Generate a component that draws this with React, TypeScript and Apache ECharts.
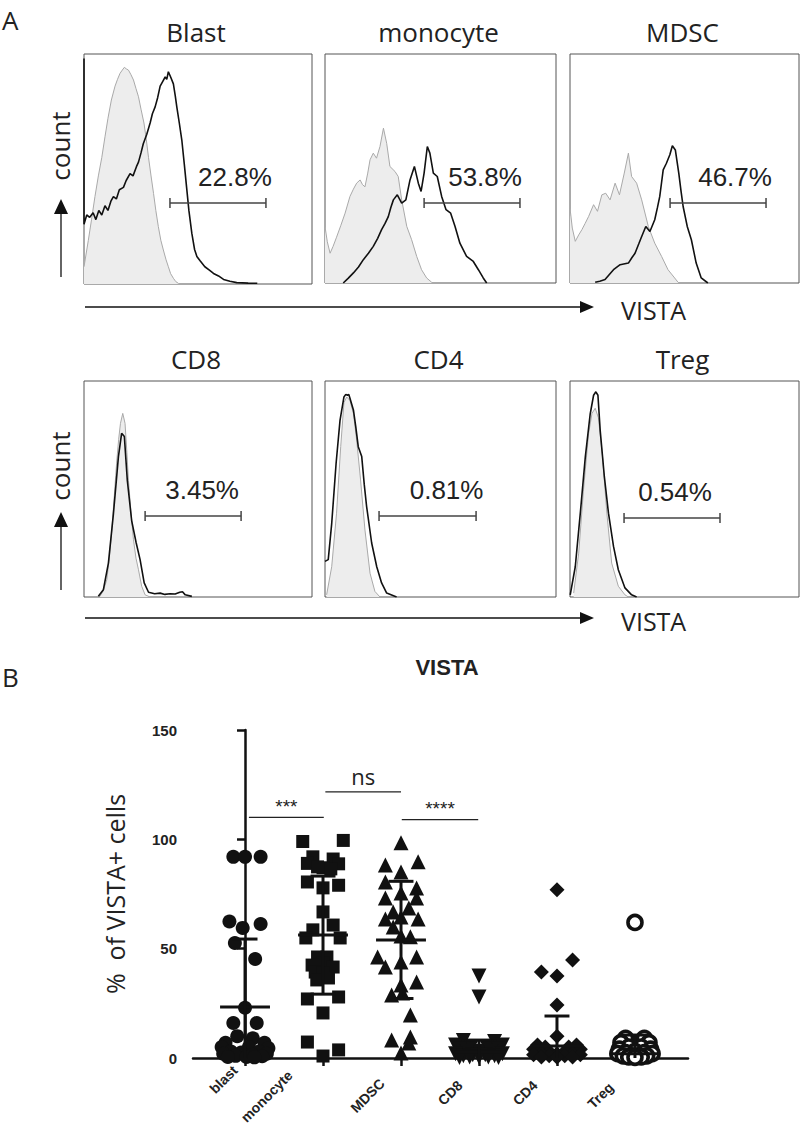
import React, { useEffect, useRef } from "react";
import * as echarts from "echarts";

// ---------- Panel A data (box-relative: x 0..100 of VISTA, y 0..100 of count) ----------
const histTitles = ["Blast", "monocyte", "MDSC", "CD8", "CD4", "Treg"];
const pctLabels = ["22.8%", "53.8%", "46.7%", "3.45%", "0.81%", "0.54%"];
const gateStart = [37.7, 42.9, 43.7, 26.8, 23.4, 23.6];
const gateEnd = [79.8, 84.4, 85.6, 68.9, 65.4, 65.5];
const gateY = [35.2, 34.9, 34.9, 37.5, 37.5, 36.6];

const blastIso = [[0, 7.5], [1.9, 19], [3.3, 28], [4.8, 38], [6.3, 47], [7.8, 55], [9.2, 64], [10.5, 72], [12, 80], [13.6, 86], [14.7, 89], [15.8, 91.6], [16.8, 93], [17.7, 94.2], [18.6, 93.5], [19.5, 93], [20.6, 91], [21.7, 88.7], [22.8, 85], [23.9, 81.4], [25, 76], [26.3, 70], [27.3, 63], [28.3, 55], [29.4, 47], [30.5, 39.4], [31.5, 32], [32.6, 25], [33.7, 19], [34.8, 14.8], [36, 10.5], [37, 7.5], [38, 4.5], [39.2, 2.5], [40.3, 1], [41.4, 0.3]];
const blastStain = [[0, 98], [0, 26], [1.2, 30], [2.5, 29], [4, 31], [5.2, 28], [6.5, 32], [7.8, 30], [9.2, 34], [10.5, 32], [11.8, 36], [12.9, 38], [14.2, 37], [15.5, 41], [17.3, 42], [18.5, 45], [20.2, 48], [21.5, 47], [23, 51], [23.9, 53], [25, 57], [26, 61], [27.5, 65], [29, 70], [30, 74], [31.2, 77], [32.3, 81], [33.4, 86], [34.5, 88], [35.6, 90], [36.3, 89], [37, 92.3], [38, 90], [39.2, 87], [40, 82], [40.7, 77], [41.8, 70], [42.9, 62.6], [44, 52], [45, 42], [46, 32], [47.3, 22], [48.5, 15], [49.5, 12], [51, 10], [53, 7.5], [55, 6], [56.8, 4.6], [59, 3.5], [61.2, 2], [64, 1.2], [67, 0.6], [72, 0.4], [76, 0.3]];

const monoIso = [[0, 24.7], [1, 18], [2.2, 13], [3.5, 16], [5, 20], [6.8, 25], [8.7, 30.5], [10.8, 37.8], [12.3, 41], [13.7, 43.6], [15.2, 45], [16.2, 43], [17.3, 42], [18.5, 48], [19.5, 53.8], [20.9, 56.7], [22.3, 54.5], [23.8, 59.6], [25.3, 67.6], [26.7, 61], [28.1, 50.9], [30.3, 48.7], [31.7, 46.5], [33.2, 36.3], [35.4, 24.7], [37.5, 18.9], [39.7, 11.6], [41.8, 5.8], [44, 2.2], [46.2, 0.3]];
const monoStain = [[7.9, 0], [10, 2], [12.3, 4.4], [14.5, 7], [16.6, 10.2], [18.8, 13], [20.9, 16], [22.8, 19.5], [24.5, 23.3], [26, 26], [27.4, 29], [28.5, 33], [29.6, 36.3], [31.3, 38.5], [33.2, 34.9], [35, 36.3], [36.8, 45], [38.7, 50.9], [40.4, 43.6], [41.6, 40], [42.9, 48], [44.3, 59.6], [45.4, 56.7], [46.9, 48], [48.6, 46.5], [50.5, 37.8], [52.4, 32], [54.4, 30.5], [56.3, 24.7], [58.4, 17.4], [61.3, 11.6], [64.2, 9.4], [66.4, 5.8], [68.5, 2.2], [70, 0]];

const mdscIso = [[0, 32.7], [1, 24], [2.3, 18.2], [3.8, 21], [5.2, 23.3], [6.6, 26], [8.1, 29], [10.3, 34.2], [12, 31.3], [13.9, 38.5], [15.6, 39.2], [17.5, 36.3], [19.7, 43.6], [21.6, 38.5], [23.7, 48], [25.5, 56.7], [26.9, 46.5], [29.1, 43.6], [31.3, 36.3], [34.2, 24.7], [37, 17.4], [40, 11.6], [42.8, 5.8], [45.7, 2.2], [47.2, 0.3]];
const mdscStain = [[11, 0.3], [13, 0.8], [15.3, 1.5], [17, 3.5], [19, 5.8], [21.9, 8], [25.5, 8.7], [27, 11], [28.4, 13], [30, 17], [31.3, 20.3], [33.1, 24.7], [34.9, 22.5], [37, 27.6], [38.2, 33], [39.2, 37.8], [40, 44], [40.7, 49.4], [42.1, 52.3], [43.6, 56], [44.7, 59.9], [46, 58.1], [47.5, 48], [48.5, 40], [49.4, 33.4], [51.2, 24.7], [53, 18.9], [55.1, 8.7], [57.3, 2.2], [60.2, 0]];

const cd8Iso = [[7, 0.3], [8.5, 3], [10, 8], [11.1, 18], [12.2, 31], [13.3, 47], [14.3, 62], [15.2, 73], [16, 80.4], [17, 85], [18, 80.4], [18.8, 67], [19.5, 54], [20.6, 39], [21.7, 26.5], [22.8, 18], [23.9, 12.6], [25.3, 5], [26.8, 1], [29, 0]];
const cd8Stain = [[6.3, 0.3], [8.5, 3.4], [10.7, 15.7], [12.9, 38.5], [15.1, 65], [16.5, 75.8], [17.7, 74.3], [19, 54], [20.9, 35.4], [22.9, 25], [24.6, 17.3], [26.4, 6.5], [28.3, 2.2], [31, 1.5], [33.4, 1.8], [35.5, 1.2], [37.7, 1.5], [40, 1.4], [42, 2.2], [43.2, 2.4], [44.4, 1], [47.3, 0.3]];

const cd4Iso = [[0.7, 1], [2.9, 14], [5, 38.8], [6.8, 69.6], [8.2, 90], [9.4, 92.6], [10.8, 91], [12.3, 85], [13.7, 72.7], [15.4, 54.2], [17.3, 31], [19.5, 11], [21.6, 2.6], [23.8, 0]];
const cd4Stain = [[0, 16.5], [1.4, 17.3], [2.9, 34], [4.8, 61.8], [6.5, 81.8], [8.2, 92.6], [9, 93.8], [9.7, 93.4], [10.3, 93.8], [10.8, 92], [12.3, 86.6], [13.3, 79], [14.4, 69.6], [15.9, 65], [17, 52], [18, 42], [20.2, 25], [22.4, 14], [24.5, 6.5], [26.7, 1.8], [31, 0]];

const tregIso = [[1.6, 1.8], [3.8, 20.3], [5.9, 49.6], [8.1, 75.5], [9.6, 85], [11, 87.4], [12.4, 83], [14.2, 65], [16.1, 38.8], [18.2, 15.7], [21.1, 5], [24, 1], [25.5, 0]];
const tregStain = [[0.1, 1], [2.3, 14], [4.5, 38.8], [6.7, 65], [8.8, 84.6], [10.3, 93.4], [11.3, 95], [12.2, 93.4], [13.2, 76.9], [15, 55.8], [16.8, 38.8], [19, 23.4], [21.1, 12.6], [24, 4.2], [26.9, 1], [29.1, 0]];

const isotypeCurves = [blastIso, monoIso, mdscIso, cd8Iso, cd4Iso, tregIso];
const stainCurves = [blastStain, monoStain, mdscStain, cd8Stain, cd4Stain, tregStain];

// ---------- Panel B data ----------
const categories = ["blast", "monocyte", "MDSC", "CD8", "CD4", "Treg"];
const blastValues = [92, 92, 92, 62.4, 59.5, 61.3, 52.6, 45.3, 23, 16, 16, 10, 9, 7, 7, 5, 5, 4.5, 3, 3, 2.5, 2, 2, 1.5, 1, 0.8, 0.5, 0.5, 0.3];
const blastJitter = [-0.15, 0, 0.2, -0.2, -0.03, 0.2, -0.13, 0.13, 0, -0.15, 0.15, -0.1, 0.1, -0.25, 0.25, -0.3, 0.05, 0.3, -0.18, 0.18, -0.05, -0.28, 0.28, 0.1, -0.12, 0.22, -0.22, 0.02, 0.12];
const monocyteValues = [99, 99.5, 92, 91, 89, 88.8, 87, 87.4, 86.5, 80.5, 79, 77.8, 66.8, 58.6, 60.8, 54.9, 54.9, 46.2, 46.2, 43.5, 42.5, 41.6, 39.3, 38.9, 36.6, 35.7, 27, 27.9, 20.6, 7.3, 3.7, 0.9];
const monocyteJitter = [-0.26, 0.26, -0.13, 0.13, -0.2, 0.2, 0, -0.07, 0.1, -0.2, 0.2, 0, 0, -0.13, 0.13, -0.22, 0.22, -0.07, 0.05, 0, -0.14, 0.13, -0.1, 0, 0.07, -0.08, -0.2, 0.2, 0, -0.2, 0.2, 0];
const mdscValues = [98.4, 88.3, 89.7, 85.1, 80.5, 77.8, 73.2, 75.5, 73.2, 66.8, 68.6, 63.6, 64.5, 63.6, 59.9, 55.8, 55.4, 46.2, 41.6, 43.9, 46.2, 33.4, 34.8, 29.7, 28.8, 19.7, 8.2, 9.6, 6.9, 2.3];
const mdscJitter = [0, -0.2, 0.22, 0, -0.2, 0.2, -0.2, 0, 0.2, -0.1, 0.1, -0.2, 0, 0.22, -0.1, 0, 0.12, -0.3, -0.2, 0, 0.2, 0, 0.2, 0.02, -0.12, 0.12, -0.12, 0.12, 0.1, 0];
const cd8Values = [37.5, 27.9, 8, 7.5, 6, 6, 5, 5, 4, 4, 3, 3, 3, 2, 2, 1.5, 1.5, 1, 1, 0.5, 0.5, 0.5, 0.2, 0.2];
const cd8Jitter = [0, 0, -0.2, 0.2, -0.3, 0.3, -0.1, 0.1, -0.25, 0.25, 0, -0.15, 0.15, -0.3, 0.3, -0.08, 0.08, -0.2, 0.2, 0, -0.12, 0.12, -0.25, 0.25];
const cd4Values = [77, 39.3, 37.5, 44.8, 24.2, 10, 6, 6, 5, 5, 4, 4, 3, 3, 2, 2, 2, 1.5, 1.5, 1, 1, 0.5, 0.5, 0.3];
const cd4Jitter = [0, -0.2, 0, 0.2, 0, 0, -0.25, 0.25, -0.15, 0.15, -0.3, 0.3, -0.1, 0.1, -0.2, 0.2, 0, -0.3, 0.3, -0.1, 0.1, -0.2, 0.2, 0];
const tregValues = [62, 9, 9, 7, 7, 5, 5, 4, 4, 3, 2.5, 2.5, 2, 2, 1, 1, 1, 1, 0.5, 0.5, 0.3];
const tregJitter = [0, -0.12, 0.12, -0.18, 0.18, -0.08, 0.08, -0.2, 0.2, 0, -0.12, 0.12, -0.22, 0.22, -0.04, 0.04, -0.15, 0.15, -0.08, 0.08, 0];

const groupMeans = [23.3, 56.2, 54, 2.8, 5.5, 2];
const groupSDs = [31.1, 27, 26.8, 5.4, 13.7, 8.5];

const sigFrom = [0.05, 1.03, 2.01];
const sigTo = [1.01, 2.0, 2.99];
const sigLevel = [110, 121.7, 109];
const sigText = ["***", "ns", "****"];

const yTicks = [0, 50, 100, 150];

// ---------- layout (styles / positions) ----------
const boxes = [
  { left: 84, top: 54, width: 228, height: 230 },
  { left: 325, top: 54, width: 231, height: 229 },
  { left: 570, top: 54, width: 229, height: 229 },
  { left: 84, top: 381, width: 228, height: 216 },
  { left: 325, top: 381, width: 231, height: 216 },
  { left: 570, top: 381, width: 229, height: 216 },
];
const pctShift = [17, 13, 17, 9, 19, 3];
const catLabelDx = [-10, -33, -19, -19, -22, -24];
const catLabelDy = [10, 15, 23, 25, 25, 27];
const SANS = "'Liberation Sans', Arial, sans-serif";
const OPEN = "'Open Sans', 'Noto Sans', sans-serif";

const txt = (x: number, y: number, text: string, size: number, extra: any = {}) => ({
  type: "text",
  x,
  y,
  rotation: extra.rotation || 0,
  style: {
    text,
    align: extra.align || "center",
    verticalAlign: "middle",
    fontFamily: extra.font || OPEN,
    fontSize: size,
    fontWeight: extra.weight || "normal",
    fill: "#222",
  },
});

function baseGraphic() {
  const graphic: any[] = [
    txt(2, 20, "A", 26, { align: "left" }),
    txt(2, 677, "B", 26, { align: "left" }),
    txt(447, 667, "VISTA", 22, { font: SANS, weight: "bold" }),
    txt(621, 310, "VISTA", 25, { align: "left" }),
    txt(621, 621, "VISTA", 25, { align: "left" }),
    txt(60, 146, "count", 26, { rotation: Math.PI / 2 }),
    txt(60, 466, "count", 26, { rotation: Math.PI / 2 }),
    { type: "line", shape: { x1: 85, y1: 307, x2: 582, y2: 307 }, style: { stroke: "#111", lineWidth: 1.3 } },
    { type: "polygon", shape: { points: [[580, 301], [594, 307], [580, 313]] }, style: { fill: "#111" } },
    { type: "line", shape: { x1: 85, y1: 618, x2: 582, y2: 618 }, style: { stroke: "#111", lineWidth: 1.3 } },
    { type: "polygon", shape: { points: [[580, 612], [594, 618], [580, 624]] }, style: { fill: "#111" } },
    { type: "line", shape: { x1: 61, y1: 277, x2: 61, y2: 212 }, style: { stroke: "#111", lineWidth: 1.3 } },
    { type: "polygon", shape: { points: [[54, 214], [61, 199], [68, 214]] }, style: { fill: "#111" } },
    { type: "line", shape: { x1: 61, y1: 590, x2: 61, y2: 525 }, style: { stroke: "#111", lineWidth: 1.3 } },
    { type: "polygon", shape: { points: [[54, 527], [61, 512], [68, 527]] }, style: { fill: "#111" } },
  ];
  histTitles.forEach((t, i) => {
    const b = boxes[i];
    graphic.push(txt(b.left + b.width / 2 - 2, b.top - 22, t, 26));
  });
  return graphic;
}

function buildOption() {
  const grids: any[] = boxes.map((b) => ({
    ...b,
    show: true,
    borderColor: "#555",
    borderWidth: 1,
    backgroundColor: "transparent",
  }));
  grids.push({ left: 193, top: 730, width: 495, height: 328 });

  const xAxes: any[] = boxes.map((_, i) => ({
    type: "value", gridIndex: i, min: 0, max: 100, show: false,
  }));
  const yAxes: any[] = boxes.map((_, i) => ({
    type: "value", gridIndex: i, min: 0, max: 100, show: false,
  }));

  xAxes.push({
    type: "value",
    gridIndex: 6,
    min: -0.667,
    max: 5.68,
    splitLine: { show: false },
    axisLine: { show: true, onZero: false, lineStyle: { color: "#111", width: 2.5 } },
    axisTick: {
      show: true,
      customValues: categories.map((_, i) => i),
      length: 8,
      lineStyle: { color: "#111", width: 2.5 },
    },
    axisLabel: { show: false },
  });
  yAxes.push({
    type: "value",
    gridIndex: 6,
    min: 0,
    max: 150,
    interval: 50,
    splitLine: { show: false },
    axisLine: { show: true, lineStyle: { color: "#111", width: 2.5 } },
    axisTick: { show: true, length: 8, lineStyle: { color: "#111", width: 2.5 } },
    axisLabel: {
      show: true,
      customValues: yTicks,
      fontFamily: SANS,
      fontWeight: "bold",
      fontSize: 15,
      color: "#222",
      margin: 16,
    },
    name: "%  of VISTA+ cells",
    nameLocation: "middle",
    nameGap: 66,
    nameTextStyle: { fontFamily: OPEN, fontSize: 25, color: "#222" },
  });

  const series: any[] = [];
  boxes.forEach((_, i) => {
    series.push({
      type: "line",
      xAxisIndex: i,
      yAxisIndex: i,
      data: isotypeCurves[i],
      symbol: "none",
      lineStyle: { color: "#a9a9a9", width: 1 },
      areaStyle: { color: "#ededed", opacity: 1 },
      z: 2,
    });
    series.push({
      type: "line",
      xAxisIndex: i,
      yAxisIndex: i,
      data: stainCurves[i],
      symbol: "none",
      lineStyle: { color: "#111", width: 1.6 },
      z: 3,
    });
    series.push({
      type: "custom",
      xAxisIndex: i,
      yAxisIndex: i,
      data: [[gateStart[i], gateEnd[i], gateY[i]]],
      z: 4,
      renderItem: (_p: any, api: any) => {
        const a = api.coord([api.value(0), api.value(2)]);
        const b = api.coord([api.value(1), api.value(2)]);
        const st = { stroke: "#444", lineWidth: 1.5 };
        return {
          type: "group",
          children: [
            { type: "line", shape: { x1: a[0], y1: a[1], x2: b[0], y2: b[1] }, style: st },
            { type: "line", shape: { x1: a[0], y1: a[1] - 5, x2: a[0], y2: a[1] + 5 }, style: st },
            { type: "line", shape: { x1: b[0], y1: b[1] - 5, x2: b[0], y2: b[1] + 5 }, style: st },
            {
              type: "text",
              x: (a[0] + b[0]) / 2 + pctShift[i],
              y: a[1] - 26,
              style: {
                text: pctLabels[i],
                align: "center",
                verticalAlign: "middle",
                fontFamily: SANS,
                fontSize: 26,
                fill: "#222",
              },
            },
          ],
        };
      },
    });
  });

  const groups = [
    { v: blastValues, j: blastJitter, symbol: "circle", size: 14, rot: 0, open: false },
    { v: monocyteValues, j: monocyteJitter, symbol: "rect", size: 13, rot: 0, open: false },
    { v: mdscValues, j: mdscJitter, symbol: "triangle", size: 15, rot: 0, open: false },
    { v: cd8Values, j: cd8Jitter, symbol: "triangle", size: 15, rot: 180, open: false },
    { v: cd4Values, j: cd4Jitter, symbol: "diamond", size: 15, rot: 0, open: false },
    { v: tregValues, j: tregJitter, symbol: "circle", size: 14, rot: 0, open: true },
  ];
  groups.forEach((g, i) => {
    series.push({
      type: "scatter",
      name: categories[i],
      xAxisIndex: 6,
      yAxisIndex: 6,
      data: g.v.map((v, k) => [i + g.j[k], v]),
      symbol: g.symbol,
      symbolSize: g.size,
      symbolRotate: g.rot,
      itemStyle: g.open
        ? { color: "#fff", borderColor: "#111", borderWidth: 3.6, opacity: 1 }
        : { color: "#111", opacity: 1 },
      z: 2,
    });
  });

  series.push({
    type: "custom",
    xAxisIndex: 6,
    yAxisIndex: 6,
    data: groupMeans.map((m, i) => [i, m, groupSDs[i]]),
    z: 5,
    renderItem: (_p: any, api: any) => {
      const x = api.value(0);
      const m = api.value(1);
      const sd = api.value(2);
      const lo = Math.max(m - sd, 0);
      const hi = m + sd;
      const pm1 = api.coord([x - 0.32, m]);
      const pm2 = api.coord([x + 0.32, m]);
      const ph = api.coord([x, hi]);
      const pl = api.coord([x, lo]);
      const c1 = api.coord([x - 0.16, hi]);
      const c2 = api.coord([x + 0.16, hi]);
      const st = { stroke: "#111", lineWidth: 3 };
      const kids: any[] = [
        { type: "line", shape: { x1: pm1[0], y1: pm1[1], x2: pm2[0], y2: pm2[1] }, style: st },
        { type: "line", shape: { x1: ph[0], y1: ph[1], x2: pl[0], y2: pl[1] }, style: st },
        { type: "line", shape: { x1: c1[0], y1: c1[1], x2: c2[0], y2: c2[1] }, style: st },
      ];
      if (m - sd > 0) {
        const d1 = api.coord([x - 0.16, lo]);
        const d2 = api.coord([x + 0.16, lo]);
        kids.push({ type: "line", shape: { x1: d1[0], y1: d1[1], x2: d2[0], y2: d2[1] }, style: st });
      }
      return { type: "group", children: kids };
    },
  });

  series.push({
    type: "custom",
    xAxisIndex: 6,
    yAxisIndex: 6,
    data: sigFrom.map((f, i) => [f, sigTo[i], sigLevel[i], i]),
    z: 5,
    renderItem: (_p: any, api: any) => {
      const a = api.coord([api.value(0), api.value(2)]);
      const b = api.coord([api.value(1), api.value(2)]);
      const t = sigText[api.value(3)];
      const isNs = t === "ns";
      return {
        type: "group",
        children: [
          { type: "line", shape: { x1: a[0], y1: a[1], x2: b[0], y2: b[1] }, style: { stroke: "#222", lineWidth: 1.3 } },
          {
            type: "text",
            x: (a[0] + b[0]) / 2,
            y: a[1] - (isNs ? 16 : 11),
            style: {
              text: t,
              align: "center",
              verticalAlign: "middle",
              fontFamily: isNs ? OPEN : SANS,
              fontSize: isNs ? 22 : 19,
              fill: "#222",
            },
          },
        ],
      };
    },
  });

  return {
    animation: false,
    backgroundColor: "#fff",
    grid: grids,
    xAxis: xAxes,
    yAxis: yAxes,
    series,
    graphic: baseGraphic(),
  };
}

export default function App() {
  const ref = useRef<HTMLDivElement>(null);
  useEffect(() => {
    if (!ref.current) return;
    const chart = echarts.init(ref.current, undefined, { renderer: "svg" });
    chart.setOption(buildOption() as any);
    // category labels placed through the library's own scale
    const labels = categories.map((c, i) => {
      const p = chart.convertToPixel({ xAxisIndex: 6, yAxisIndex: 6 } as any, [i, 0]) as number[];
      return txt(p[0] + catLabelDx[i], p[1] + catLabelDy[i], c, 14, {
        font: SANS,
        weight: "bold",
        align: "right",
        rotation: Math.PI / 4,
      });
    });
    chart.setOption({ graphic: [...baseGraphic(), ...labels] } as any);
    return () => chart.dispose();
  }, []);
  return (
    <div
      ref={ref}
      style={{ position: "absolute", left: 0, top: 0, width: 800, height: 1136 }}
    />
  );
}
